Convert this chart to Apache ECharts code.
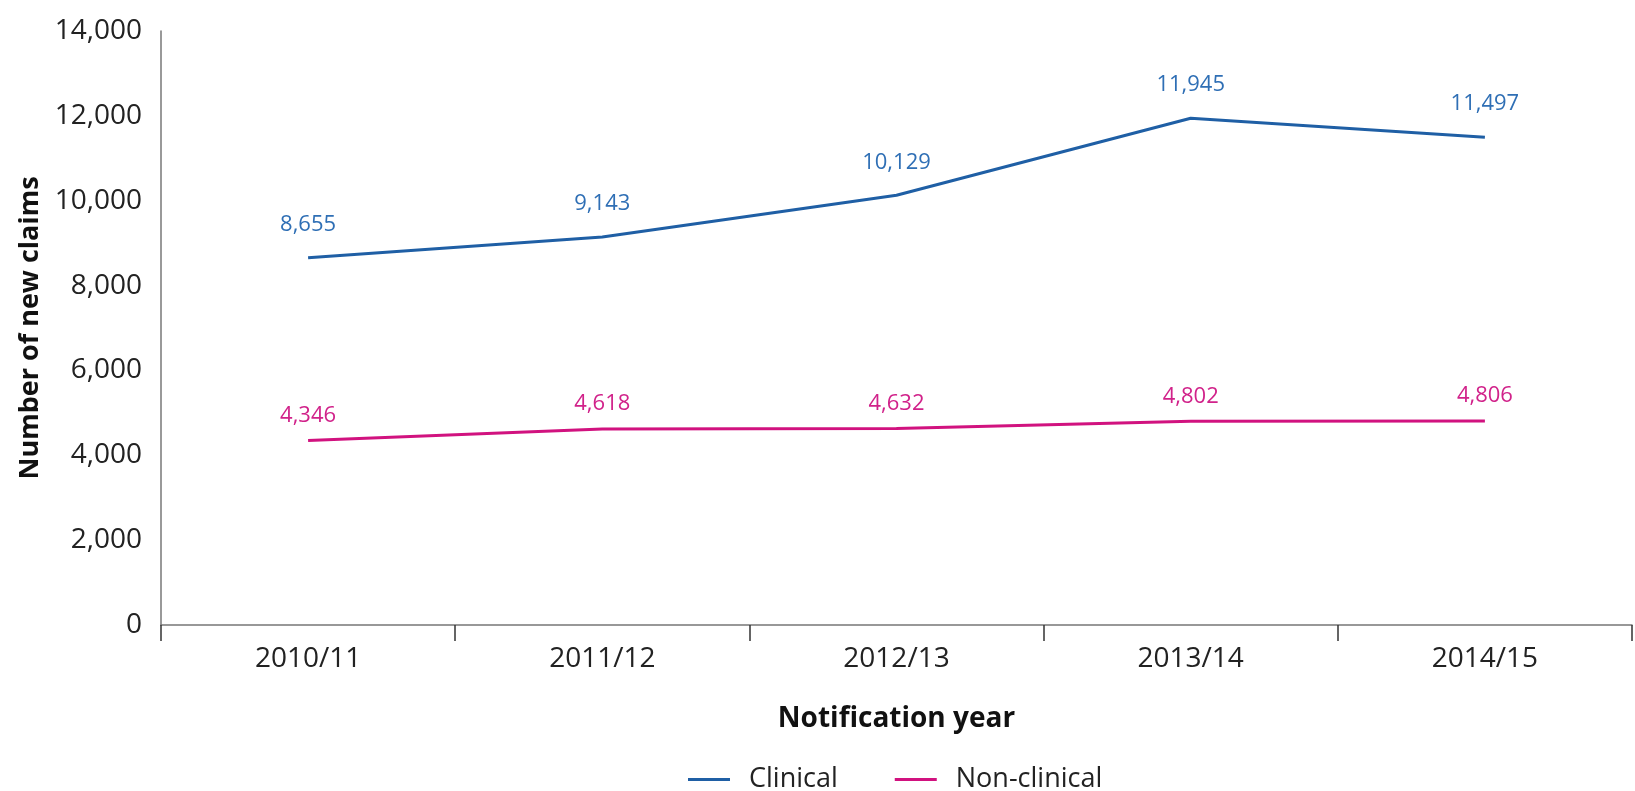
<!DOCTYPE html>
<html>
<head>
<meta charset="utf-8">
<script src="https://cdn.jsdelivr.net/npm/echarts@6/dist/echarts.min.js"></script>
<style>
html,body{margin:0;padding:0;background:#fff;}
#chart{width:1635px;height:791px;}
</style>
</head>
<body>
<div id="chart"></div>
<script>
var categories = ['2010/11', '2011/12', '2012/13', '2013/14', '2014/15'];
var clinical = [8655, 9143, 10129, 11945, 11497];
var nonClinical = [4346, 4618, 4632, 4802, 4806];
var seriesNames = ['Clinical', 'Non-clinical'];
var yTicks = { min: 0, max: 14000, interval: 2000 };

var FONT = '"Open Sans", "Noto Sans", sans-serif';
var chart = echarts.init(document.getElementById('chart'));
chart.setOption({
  animation: false,
  backgroundColor: '#ffffff',
  grid: { left: 161, right: 3, top: 31, bottom: 166, containLabel: false },
  legend: {
    bottom: -7,
    left: 683,
    icon: 'rect',
    itemWidth: 42,
    itemHeight: 3,
    itemGap: 57,
    textStyle: { fontFamily: FONT, fontSize: 27, color: '#222', padding: [0, 0, 0, 14] },
    data: seriesNames
  },
  xAxis: {
    type: 'category',
    data: categories,
    boundaryGap: true,
    name: 'Notification year',
    nameLocation: 'middle',
    nameGap: 80,
    nameTextStyle: { fontFamily: FONT, fontSize: 28, fontWeight: 'bold', color: '#111' },
    axisLine: { show: true, lineStyle: { color: '#777', width: 1.5 } },
    axisTick: { show: true, alignWithLabel: false, length: 16, lineStyle: { color: '#333', width: 1.5 } },
    axisLabel: { fontFamily: FONT, fontSize: 28, color: '#222', margin: 20 },
    splitLine: { show: false }
  },
  yAxis: {
    type: 'value',
    min: yTicks.min,
    max: yTicks.max,
    interval: yTicks.interval,
    name: 'Number of new claims',
    nameLocation: 'middle',
    nameRotate: 90,
    nameGap: 117,
    nameTextStyle: { fontFamily: FONT, fontSize: 27, fontWeight: 'bold', color: '#111' },
    axisLine: { show: true, lineStyle: { color: '#777', width: 1.5 } },
    axisTick: { show: false },
    axisLabel: {
      fontFamily: FONT, fontSize: 28, color: '#222', margin: 19,
      formatter: function (v) { return v.toLocaleString('en-US'); }
    },
    splitLine: { show: false }
  },
  series: [
    {
      name: seriesNames[0],
      type: 'line',
      data: clinical,
      showSymbol: true,
      symbol: 'circle',
      symbolSize: 0,
      lineStyle: { color: '#1f5fa5', width: 3 },
      itemStyle: { color: '#1f5fa5' },
      label: {
        show: true, position: 'top', distance: 22,
        fontFamily: FONT, fontSize: 22, color: '#2f6fb5',
        formatter: function (p) { return p.value.toLocaleString('en-US'); }
      }
    },
    {
      name: seriesNames[1],
      type: 'line',
      data: nonClinical,
      showSymbol: true,
      symbol: 'circle',
      symbolSize: 0,
      lineStyle: { color: '#d1127f', width: 3 },
      itemStyle: { color: '#d1127f' },
      label: {
        show: true, position: 'top', distance: 14,
        fontFamily: FONT, fontSize: 22, color: '#d1228a',
        formatter: function (p) { return p.value.toLocaleString('en-US'); }
      }
    }
  ]
});
</script>
</body>
</html>
